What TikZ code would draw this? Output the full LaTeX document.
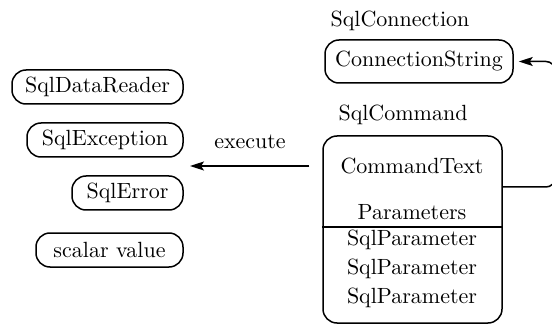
\documentclass[tikz,border=0pt]{standalone}
\usepackage{fontspec}
\setmainfont{lmroman10-regular.otf}
\usetikzlibrary{arrows.meta}
\newcommand{\diafont}{\fontsize{22}{26}\selectfont}
\begin{document}
\begin{tikzpicture}[x=1pt,y=-1pt,
  box/.style={draw, line width=1.5pt, rounded corners=14pt, inner sep=0pt, font=\diafont},
  txt/.style={inner sep=0pt, font=\diafont},
  conn/.style={line width=1.5pt, -{Stealth[length=14pt,width=9pt,inset=3pt]}}]
  \path[use as bounding box] (0,0) rectangle (552,326);
  \clip (0,0) rectangle (552,326);

  % result objects on the left
  \node[box, minimum width=171pt, minimum height=34pt] (reader) at (97.5,87) {SqlDataReader};
  \node[box, minimum width=156pt, minimum height=34pt] (exc) at (105,140) {SqlException};
  \node[box, minimum width=111pt, minimum height=34pt] (err) at (127.5,193) {SqlError};
  \node[box, minimum width=147pt, minimum height=34pt] (scalar) at (109.5,250) {scalar value};

  % connection object
  \node[txt] (connlabel) at (400,21) {SqlConnection};
  \node[box, minimum width=188pt, minimum height=43pt] (connstr) at (419,61.5) {ConnectionString};

  % command object with its parameter compartment
  \node[txt] (cmdlabel) at (403,115) {SqlCommand};
  \node[draw, line width=1.5pt, rounded corners=14pt, minimum width=179pt, minimum height=187pt, inner sep=0pt] (cmd) at (412.5,229.5) {};
  \draw[line width=1.5pt] (cmd.west |- 0,227) -- (cmd.east |- 0,227);
  \node[txt] (cmdtext) at (412,166) {CommandText};
  \node[txt] (params) at (412,212) {Parameters};
  \node[txt] (p1) at (412,240) {SqlParameter};
  \node[txt] (p2) at (412,269) {SqlParameter};
  \node[txt] (p3) at (412,298) {SqlParameter};

  % execute arrow towards the results
  \coordinate (res) at (190,166);
  \draw[conn, shorten <=13pt] (cmd.west |- res) -- (res);
  \node[txt] (execlabel) at (250,142) {execute};

  % command refers to its connection
  \coordinate (bendlow) at (555,187);
  \coordinate (bendhigh) at (555,61.5);
  \draw[conn, rounded corners=9pt, shorten >=5pt] (cmd.east |- bendlow) -- (bendlow) -- (bendhigh) -- (connstr.east);
\end{tikzpicture}
\end{document}
